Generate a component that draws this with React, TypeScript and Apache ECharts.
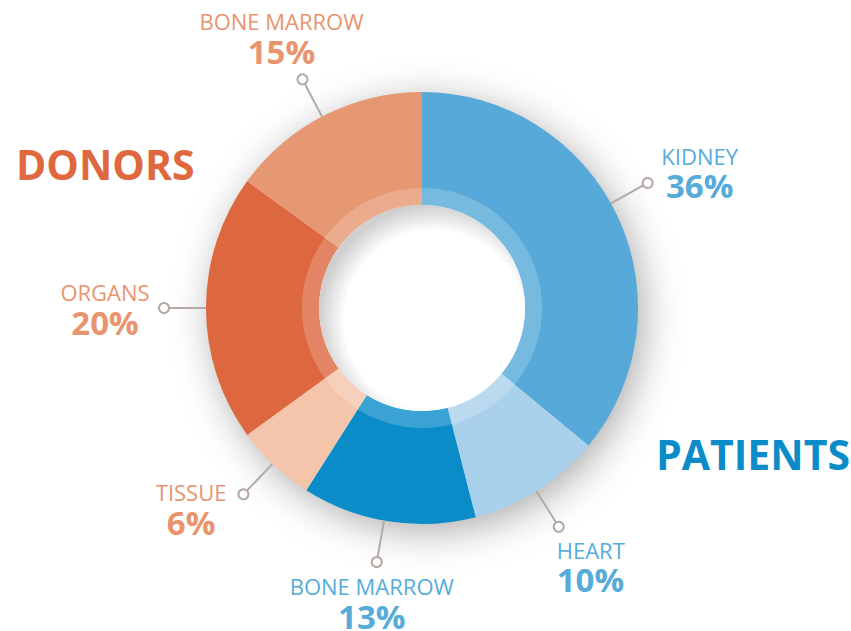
import React, { useEffect, useRef } from "react";
import * as echarts from "echarts";

const categories = ["KIDNEY", "HEART", "BONE MARROW", "TISSUE", "ORGANS", "BONE MARROW"];
const values = [36, 10, 13, 6, 20, 15];
const groups = ["PATIENTS", "PATIENTS", "PATIENTS", "DONORS", "DONORS", "DONORS"];

const sliceColors = ["#56a9d8", "#aad1eb", "#0a8cc9", "#f4c5ab", "#dd673e", "#e69872"];
const labelColors: Record<string, string> = { PATIENTS: "#57abd9", DONORS: "#e8946e" };

// leader-line angle tweak (degrees), label block offset relative to the hollow dot,
// block alignment and right padding of the percentage line
const labelLayout = [
  { a: -3.8, dx: 52, dy: -11, align: "center", pad: 0 },
  { a: 0.4, dx: -2, dy: 39, align: "left", pad: 0 },
  { a: 1.1, dx: -5, dy: 40, align: "center", pad: 0 },
  { a: 0.6, dx: -17, dy: 14, align: "right", pad: 11 },
  { a: 0, dx: -59, dy: 0, align: "center", pad: 0 },
  { a: -0.6, dx: -21, dy: -42, align: "center", pad: 0 },
];

const CX = 422;
const CY = 308;
const R_OUT = 216;
const R_IN = 103;
const R_RING = 120;
const R_DOT = 258;
const FONT = "'Open Sans', 'Noto Sans', sans-serif";

export default function App() {
  const ref = useRef<HTMLDivElement>(null);
  useEffect(() => {
    document.body.style.margin = "0";
    const chart = echarts.init(ref.current!, null, { renderer: "svg" });
    const total = values.reduce((a, b) => a + b, 0);
    const graphics: any[] = [];
    graphics.push({
      type: "circle",
      z: 0,
      shape: { cx: CX, cy: CY, r: R_OUT - 2 },
      style: {
        fill: "#ffffff",
        shadowBlur: 40,
        shadowColor: "rgba(0,0,0,0.35)",
        shadowOffsetX: 6,
        shadowOffsetY: 8,
      },
    });
    graphics.push({
      type: "ring",
      z: 10,
      shape: { cx: CX, cy: CY, r: R_RING, r0: R_IN },
      style: { fill: "rgba(255,255,255,0.2)" },
    });
    graphics.push({
      type: "circle",
      z: 10,
      shape: { cx: CX, cy: CY, r: R_IN },
      style: {
        fill: {
          type: "radial",
          x: 0.56,
          y: 0.56,
          r: 0.56,
          colorStops: [
            { offset: 0, color: "#ffffff" },
            { offset: 0.78, color: "#ffffff" },
            { offset: 1, color: "#cfcfcf" },
          ],
        },
      },
    });
    let cum = 0;
    values.forEach((v, i) => {
      const lay = labelLayout[i];
      const mid = ((cum + v / 2) / total) * Math.PI * 2 + (lay.a * Math.PI) / 180;
      cum += v;
      const sx = Math.sin(mid);
      const cy = -Math.cos(mid);
      const dotX = CX + sx * R_DOT;
      const dotY = CY + cy * R_DOT;
      graphics.push({
        type: "line",
        z: 11,
        shape: {
          x1: CX + sx * R_OUT,
          y1: CY + cy * R_OUT,
          x2: CX + sx * (R_DOT - 5),
          y2: CY + cy * (R_DOT - 5),
        },
        style: { stroke: "#b3a9a5", lineWidth: 2 },
      });
      graphics.push({
        type: "circle",
        z: 11,
        shape: { cx: dotX, cy: dotY, r: 5 },
        style: { fill: "#ffffff", stroke: "#b3a9a5", lineWidth: 2 },
      });
      const col = labelColors[groups[i]];
      graphics.push({
        type: "text",
        z: 11,
        x: dotX + lay.dx,
        y: dotY + lay.dy,
        style: {
          text: `{n|${categories[i]}}\n{p|${v}%}`,
          textAlign: lay.align,
          textVerticalAlign: "middle",
          rich: {
            n: {
              fill: col,
              fontFamily: FONT,
              fontSize: 22,
              fontWeight: 400,
              lineHeight: 28,
            },
            p: {
              fill: col,
              fontFamily: FONT,
              fontSize: 33,
              fontWeight: 700,
              lineHeight: 32,
              padding: [0, lay.pad, 0, 0],
            },
          },
        },
      });
    });
    graphics.push({
      type: "text",
      z: 11,
      x: 16,
      y: 164,
      style: {
        text: "DONORS",
        fill: "#e0683f",
        font: `700 41px ${FONT}`,
        textAlign: "left",
        textVerticalAlign: "middle",
      },
    });
    graphics.push({
      type: "text",
      z: 11,
      x: 656,
      y: 454,
      style: {
        text: "PATIENTS",
        fill: "#0a8cc9",
        font: `700 41px ${FONT}`,
        textAlign: "left",
        textVerticalAlign: "middle",
      },
    });

    chart.setOption({
      animation: false,
      backgroundColor: "#ffffff",
      graphic: { elements: graphics },
      series: [
        {
          type: "pie",
          z: 2,
          center: [CX, CY],
          radius: [R_IN, R_OUT],
          startAngle: 90,
          clockwise: true,
          label: { show: false },
          labelLine: { show: false },
          emphasis: { disabled: true },
          data: values.map((v, i) => ({
            name: categories[i] + " " + groups[i],
            value: v,
            itemStyle: { color: sliceColors[i] },
          })),
        },
      ],
    });
    return () => chart.dispose();
  }, []);
  return <div ref={ref} style={{ width: 851, height: 631 }} />;
}
